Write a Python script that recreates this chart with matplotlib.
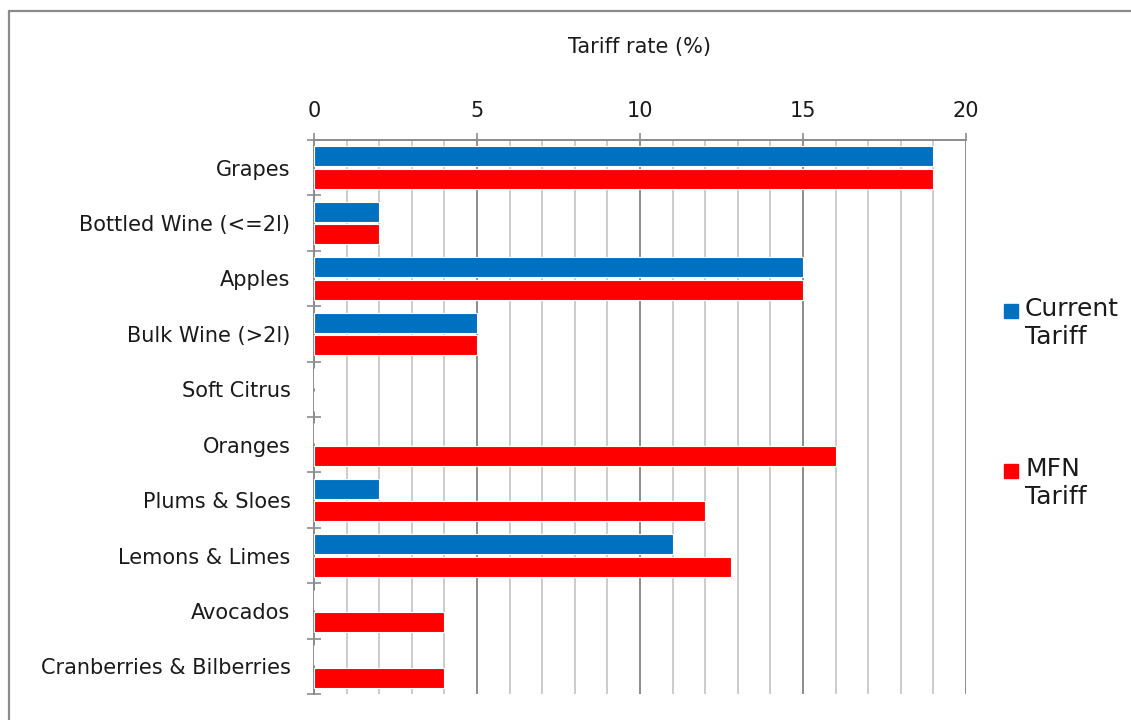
import matplotlib

matplotlib.use("Agg")
import matplotlib.pyplot as plt
import numpy as np
from matplotlib.patches import Rectangle

categories = [
    "Grapes",
    "Bottled Wine (<=2l)",
    "Apples",
    "Bulk Wine (>2l)",
    "Soft Citrus",
    "Oranges",
    "Plums & Sloes",
    "Lemons & Limes",
    "Avocados",
    "Cranberries & Bilberries",
]
current_tariff = [19, 2, 15, 5, 0, 0, 2, 11, 0, 0]
mfn_tariff = [19, 2, 15, 5, 0, 16, 12, 12.8, 4, 4]
series_names = ["Current\nTariff", "MFN\nTariff"]
series_colors = ["#0070C0", "#FF0000"]
x_ticks = [0, 5, 10, 15, 20]

plt.rcParams["font.family"] = ["DejaVu Sans"]
TEXT = "#1a1a1a"
FS = 15

fig = plt.figure(figsize=(11.31, 7.2), dpi=100)
ax = fig.add_axes([314 / 1131, 1 - 694 / 720, 652 / 1131, 554 / 720])

y = np.arange(len(categories))
bar_h = 0.36
ax.barh(y - 0.205, current_tariff, height=bar_h, color=series_colors[0],
        edgecolor="white", linewidth=0.8, zorder=3)
ax.barh(y + 0.205, mfn_tariff, height=bar_h, color=series_colors[1],
        edgecolor="white", linewidth=0.8, zorder=3)

ax.set_xlim(0, 20)
ax.set_ylim(len(categories) - 0.5, -0.5)

# value axis on top
ax.xaxis.tick_top()
ax.xaxis.set_label_position("top")
ax.set_xticks(x_ticks)
ax.set_xticks(np.arange(0, 21, 1), minor=True)
ax.tick_params(axis="x", which="major", direction="out", length=5, width=1.2,
               color="#8c8c8c", labelsize=FS, pad=9, labelcolor=TEXT)
ax.tick_params(axis="x", which="minor", length=0)
ax.grid(axis="x", which="major", color="#8c8c8c", linewidth=1.4, zorder=0)
ax.grid(axis="x", which="minor", color="#c4c4c4", linewidth=1.2, zorder=0)
ax.set_xlabel("Tariff rate (%)", fontsize=FS, labelpad=34, color=TEXT)

# category axis: labels at centers, ticks at boundaries
ax.set_yticks(y)
ax.set_yticklabels(categories)
ax.set_yticks(np.arange(len(categories) + 1) - 0.5, minor=True)
ax.tick_params(axis="y", which="major", length=0, labelsize=FS, pad=17,
               labelcolor=TEXT)
ax.tick_params(axis="y", which="minor", direction="inout", length=10,
               width=1.2, color="#8c8c8c")

for side in ["right", "bottom"]:
    ax.spines[side].set_visible(False)
for side in ["left", "top"]:
    ax.spines[side].set_color("#8c8c8c")
    ax.spines[side].set_linewidth(1.4)

# legend
legend_y = [311 / 720, 471 / 720]
for name, color, ly in zip(series_names, series_colors, legend_y):
    fig.patches.append(Rectangle((1004 / 1131, 1 - ly - 7 / 720), 14 / 1131, 14 / 720,
                                 transform=fig.transFigure, color=color))
    fig.text(1025 / 1131, 1 - ly + 14 / 720, name, fontsize=18, va="top",
             ha="left", color=TEXT, linespacing=1.2)

# outer chart border
fig.patches.append(Rectangle((9 / 1131, -0.1), 1.2, 1 - 11 / 720 + 0.1,
                             transform=fig.transFigure, fill=False,
                             edgecolor="#8a8a8a", linewidth=1.6))

fig.savefig("out.png", dpi=100)
